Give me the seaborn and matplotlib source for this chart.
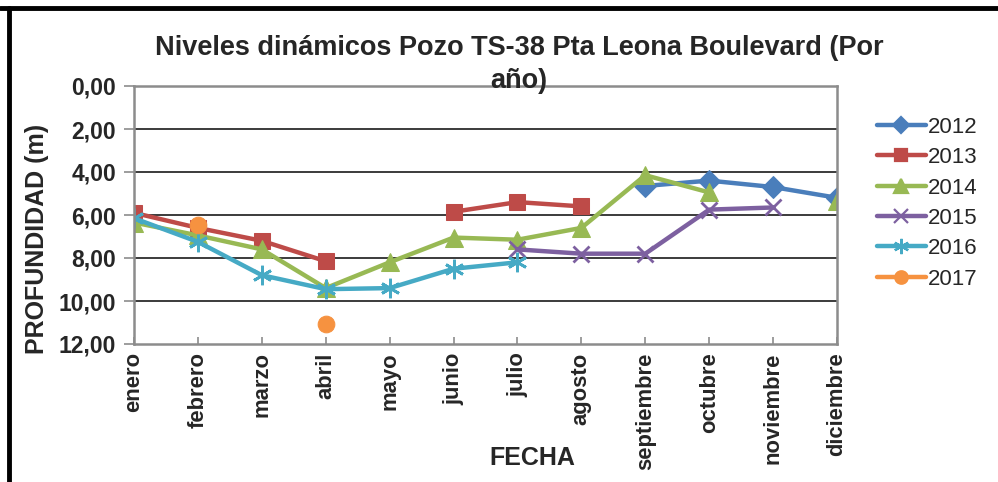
import numpy as np
import pandas as pd
import seaborn as sns
import matplotlib
matplotlib.use("Agg")
import matplotlib.pyplot as plt
from matplotlib.lines import Line2D
from matplotlib.ticker import FuncFormatter

meses = ["enero", "febrero", "marzo", "abril", "mayo", "junio", "julio",
         "agosto", "septiembre", "octubre", "noviembre", "diciembre"]
nan = np.nan
anios = ["2012", "2013", "2014", "2015", "2016", "2017"]
prof_2012 = [nan, nan, nan, nan, nan, nan, nan, nan, 4.65, 4.40, 4.70, 5.20]
prof_2013 = [5.90, 6.60, 7.20, 8.15, nan, 5.85, 5.40, 5.60, nan, nan, nan, nan]
prof_2014 = [6.35, 6.95, 7.60, 9.40, 8.20, 7.05, 7.15, 6.60, 4.15, 4.95, nan, 5.35]
prof_2015 = [nan, nan, nan, nan, nan, nan, 7.60, 7.80, 7.80, 5.75, 5.65, nan]
prof_2016 = [6.15, 7.25, 8.80, 9.45, 9.40, 8.50, 8.20, nan, nan, nan, nan, nan]
prof_2017 = [nan, 6.45, nan, 11.05, nan, nan, nan, nan, nan, nan, nan, nan]
series = [prof_2012, prof_2013, prof_2014, prof_2015, prof_2016, prof_2017]

colores = ["#4A7EBB", "#BE4B48", "#98B954", "#7D60A0", "#46AAC5", "#F69240"]
marcadores = ["D", "s", "^", "x", (6, 2, 0), "o"]
tam_marcador = [11, 11, 13, 12, 14, 12]
tam_leyenda = [8, 9, 10, 10, 11, 9]

sns.set_theme(style="white")
plt.rcParams["font.family"] = ["Liberation Sans", "DejaVu Sans"]

fig = plt.figure(figsize=(9.98, 4.82), dpi=100)
ax = fig.add_axes([134 / 998, 1 - 344 / 482, (837 - 134) / 998, (344 - 86) / 482])

for anio, vals, col, mk, ms in zip(anios, series, colores, marcadores, tam_marcador):
    df = pd.DataFrame({"mes": np.arange(12), "valor": vals})
    # split into contiguous runs so that missing months leave a gap
    df["tramo"] = df["valor"].isna().cumsum()
    df = df.dropna()
    primero = True
    for _, seg in df.groupby("tramo"):
        kw = dict(markerfacecolor=col, markeredgecolor=col)
        if mk in ("x",) or isinstance(mk, tuple):
            kw = dict(markeredgecolor=col, markeredgewidth=2.0)
        sns.lineplot(data=seg, x="mes", y="valor", ax=ax, color=col,
                     linewidth=3.2, marker=mk, markersize=ms,
                     label=anio if primero else None, legend=False, **kw)
        primero = False

ax.set_xlim(0, 11)
ax.set_ylim(12, 0)
ax.set_yticks(np.arange(0, 13, 2))
ax.yaxis.set_major_formatter(FuncFormatter(lambda v, p: f"{v:.2f}".replace(".", ",")))
ax.set_xticks(np.arange(12))
ax.set_xticklabels(meses, rotation=90, fontsize=15.8, fontweight="bold")
for t in ax.get_yticklabels():
    t.set_fontsize(16.5)
    t.set_fontweight("bold")
ax.set_xlabel("")
ax.set_ylabel("")

for y in range(2, 12, 2):
    ax.axhline(y, color="#1a1a1a", linewidth=1.2, zorder=0)
for s in ax.spines.values():
    s.set_color("#8c8c8c")
    s.set_linewidth(1.8)
    s.set_visible(True)
ax.tick_params(axis="y", which="major", direction="out", length=7, width=1.2,
               color="#8c8c8c", pad=6, left=True)
ax.tick_params(axis="x", which="major", direction="in", length=5, width=1.2,
               color="#8c8c8c", pad=6, bottom=True)

fig.text(519 / 998, 1 - 48 / 482, "Niveles dinámicos Pozo TS-38 Pta Leona Boulevard (Por",
         ha="center", va="center", fontsize=19.5, fontweight="bold")
fig.text(519 / 998, 1 - 81 / 482, "año)", ha="center", va="center",
         fontsize=19.5, fontweight="bold")
fig.text(37 / 998, 1 - 239 / 482, "PROFUNDIDAD (m)", rotation=90, ha="center",
         va="center", fontsize=18, fontweight="bold")
fig.text(532 / 998, 1 - 458 / 482, "FECHA", ha="center", va="center",
         fontsize=18, fontweight="bold")

handles = [Line2D([], [], color=c, marker=m, linewidth=3.2, markersize=ms,
                  markeredgewidth=1.6) for c, m, ms in zip(colores, marcadores, tam_leyenda)]
fig.legend(handles, anios, loc="upper left", bbox_to_anchor=(868 / 998, 1 - 108 / 482),
           frameon=False, fontsize=16, handlelength=2.2, handletextpad=0.1,
           labelspacing=0.42, borderaxespad=0)

# outer frame along the top and left edges
fig.add_artist(Line2D([0, 1], [1 - 8 / 482, 1 - 8 / 482], transform=fig.transFigure,
                      color="black", linewidth=3.5))
fig.add_artist(Line2D([9 / 998, 9 / 998], [0, 1 - 8 / 482], transform=fig.transFigure,
                      color="black", linewidth=3.5))

fig.savefig("out.png", dpi=100, facecolor="white")
